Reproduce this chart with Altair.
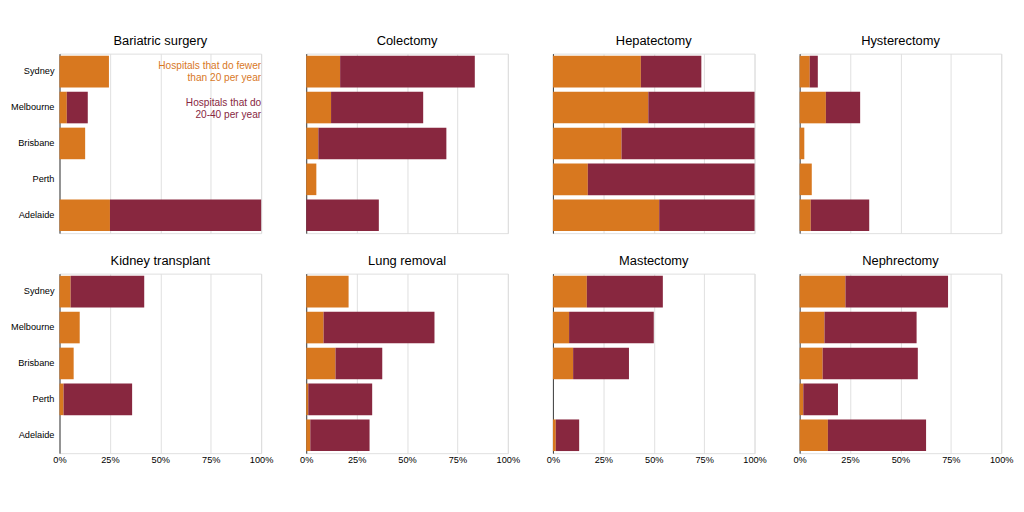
import altair as alt
import pandas as pd

cities = ["Sydney", "Melbourne", "Brisbane", "Perth", "Adelaide"]
procedures = ["Bariatric surgery", "Colectomy", "Hepatectomy", "Hysterectomy",
              "Kidney transplant", "Lung removal", "Mastectomy", "Nephrectomy"]
# share of hospitals doing fewer than 20 per year
fewer20 = {
    "Bariatric surgery": [24.5, 3.6, 12.7, 0, 25],
    "Colectomy": [16.8, 12.3, 6, 5, 0],
    "Hepatectomy": [43.6, 47.3, 34, 17.3, 52.7],
    "Hysterectomy": [5, 13, 2.3, 6, 5.5],
    "Kidney transplant": [5.5, 10, 7, 2, 0],
    "Lung removal": [21, 8.6, 14.5, 1, 2],
    "Mastectomy": [16.8, 8, 10, 0, 1.4],
    "Nephrectomy": [22.7, 12.3, 11.4, 1.8, 14],
}
# share of hospitals doing 20-40 per year
between20_40 = {
    "Bariatric surgery": [0, 10.4, 0, 0, 75],
    "Colectomy": [66.8, 45.7, 63.5, 0, 36],
    "Hepatectomy": [30, 52.7, 66, 82.7, 47.3],
    "Hysterectomy": [4, 17, 0, 0, 29],
    "Kidney transplant": [36.5, 0, 0, 34, 0],
    "Lung removal": [0, 55, 23.2, 31.7, 29.4],
    "Mastectomy": [37.7, 42, 27.7, 0, 11.6],
    "Nephrectomy": [50.9, 45.7, 47.2, 17.2, 48.7],
}
groups = ["fewer than 20", "20-40"]
colors = ["#D8781F", "#88273F"]

rows = []
for p in procedures:
    for i, c in enumerate(cities):
        rows.append({"proc": p, "city": c, "group": groups[0], "order": 0, "v": fewer20[p][i] / 100})
        rows.append({"proc": p, "city": c, "group": groups[1], "order": 1, "v": between20_40[p][i] / 100})
df = pd.DataFrame(rows)

W, H = 219, 195


def panel(proc, show_y, show_x):
    base = alt.Chart(df).transform_filter(alt.datum.proc == proc)
    bars = base.mark_bar().encode(
        y=alt.Y("city:N", sort=cities, title=None,
                scale=alt.Scale(paddingInner=0.12, paddingOuter=0.06),
                axis=alt.Axis(labels=show_y, ticks=False, domain=True, domainColor="#333",
                              labelFontSize=10, labelPadding=6, grid=False)),
        x=alt.X("v:Q", stack="zero", title=None,
                scale=alt.Scale(domain=[0, 1], nice=False),
                axis=alt.Axis(format="%", values=[0, 0.25, 0.5, 0.75, 1],
                              labelColor="#000" if show_x else "transparent",
                              ticks=False, domain=False, grid=True, gridColor="#ddd",
                              labelFontSize=10, labelFlush=False)),
        color=alt.Color("group:N", scale=alt.Scale(domain=groups, range=colors), legend=None),
        order=alt.Order("order:Q"),
    )
    layers = [bars]
    if proc == "Bariatric surgery":
        t1 = alt.Chart(pd.DataFrame({"t": [["Hospitals that do fewer", "than 20 per year"]]})).mark_text(
            align="right", baseline="top", fontSize=11, color=colors[0], lineHeight=13).encode(
            text="t", x=alt.value(W), y=alt.value(8))
        t2 = alt.Chart(pd.DataFrame({"t": [["Hospitals that do", "20-40 per year"]]})).mark_text(
            align="right", baseline="top", fontSize=11, color=colors[1], lineHeight=13).encode(
            text="t", x=alt.value(W), y=alt.value(48))
        layers += [t1, t2]
    return alt.layer(*layers).properties(
        width=W, height=H,
        title=alt.TitleParams(proc, fontSize=14, fontWeight="normal", anchor="middle", offset=6))


top = alt.hconcat(*[panel(p, i == 0, False) for i, p in enumerate(procedures[:4])], spacing=27)
bottom = alt.hconcat(*[panel(p, i == 0, True) for i, p in enumerate(procedures[4:])], spacing=27)
chart = alt.vconcat(top, bottom, spacing=10).properties(
    padding={"left": 2, "right": 2, "top": 8, "bottom": 2}
).configure_view(stroke=None).configure(font="Liberation Sans")

chart.save("out.html", embed_options={"renderer": "svg", "actions": False})
